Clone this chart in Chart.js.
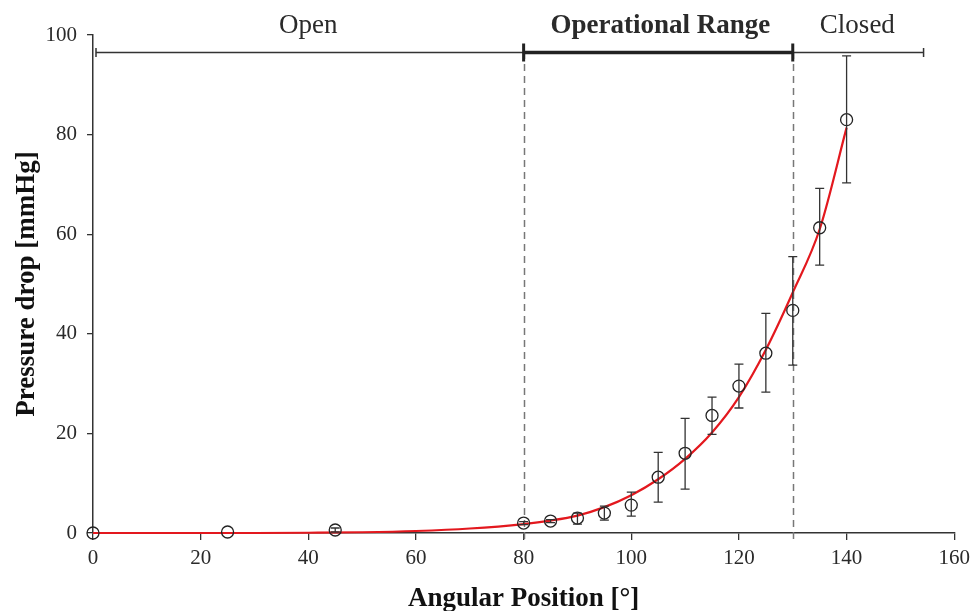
<!DOCTYPE html>
<html>
<head>
<meta charset="utf-8">
<script src="https://cdn.jsdelivr.net/npm/chart.js@4/dist/chart.umd.min.js"></script>
<style>
  html, body { margin: 0; padding: 0; background: #fff; }
  #wrap { width: 976px; height: 611px; }
</style>
</head>
<body>
<div id="wrap"><canvas id="chart" width="976" height="611"></canvas></div>
<script>
// measured points (circles) with error bars
var angle    = [0, 25, 45, 80, 85, 90, 95, 100, 105, 110, 115, 120, 125, 130, 135, 140];
var pressure = [0, 0.2, 0.6, 2.0, 2.4, 3.0, 4.0, 5.6, 11.2, 16.0, 23.6, 29.5, 36.1, 44.7, 61.3, 83.0];
var errLow   = [0, 0.2, 0.2, 1.7, 2.1, 1.8, 2.6, 3.4, 6.2, 8.8, 19.8, 25.1, 28.3, 33.7, 53.8, 70.3];
var errHigh  = [0, 0.2, 1.0, 2.3, 2.7, 4.0, 5.4, 8.2, 16.2, 23.0, 27.3, 33.9, 44.1, 55.5, 69.2, 95.8];

// red fitted curve
var fitAngle    = [0, 10, 20, 30, 40, 50, 60, 70, 80, 85, 90, 95, 100, 105, 110, 115, 120, 125, 130, 135, 140];
var fitPressure = [0, 0, 0, 0, 0.05, 0.15, 0.4, 0.9, 1.8, 2.5, 3.5, 5.2, 7.6, 10.8, 14.9, 20.2, 27.3, 36.8, 48.3, 61.0, 81.4];

// range bar on top
var rangeNames = ["Open", "Operational Range", "Closed"];
var rangeLabelX = [40, 105.4, 142];
var rangeBounds = [0, 80, 130, 154.3];
var rangeLevel = 96.6;

var xTicks = [0, 20, 40, 60, 80, 100, 120, 140, 160];
var yTicks = [0, 20, 40, 60, 80, 100];

var serif = "'Liberation Serif', 'Times New Roman', serif";
var ink = "#2a2a2a";

var points = angle.map(function (a, i) { return { x: a, y: pressure[i] }; });
var fit = fitAngle.map(function (a, i) { return { x: a, y: fitPressure[i] }; });

var extras = {
	id: "extras",
	beforeDatasetsDraw: function (chart) {
		var c = chart.ctx, xs = chart.scales.x, ys = chart.scales.y;
		var yTop = ys.getPixelForValue(rangeLevel);
		var yBot = ys.getPixelForValue(0) + 7;
		c.save();
		c.strokeStyle = "#777";
		c.lineWidth = 1.5;
		c.setLineDash([7, 5]);
		[rangeBounds[1], rangeBounds[2]].forEach(function (v) {
			var px = Math.round(xs.getPixelForValue(v)) + 0.5;
			c.beginPath();
			c.moveTo(px, yTop);
			c.lineTo(px, yBot);
			c.stroke();
		});
		c.restore();
	},
	afterDatasetsDraw: function (chart) {
		var c = chart.ctx, xs = chart.scales.x, ys = chart.scales.y;
		c.save();
		// error bars
		c.strokeStyle = "#333";
		c.lineWidth = 1.3;
		for (var i = 0; i < angle.length; i++) {
			if (errHigh[i] - errLow[i] < 0.3) continue;
			var px = xs.getPixelForValue(angle[i]);
			var lo = ys.getPixelForValue(errLow[i]);
			var hi = ys.getPixelForValue(errHigh[i]);
			c.beginPath();
			c.moveTo(px, lo); c.lineTo(px, hi);
			c.moveTo(px - 4.5, lo); c.lineTo(px + 4.5, lo);
			c.moveTo(px - 4.5, hi); c.lineTo(px + 4.5, hi);
			c.stroke();
		}
		// range bar
		var y = Math.round(ys.getPixelForValue(rangeLevel)) + 0.5;
		var x0 = xs.getPixelForValue(rangeBounds[0]);
		var x1 = xs.getPixelForValue(rangeBounds[1]);
		var x2 = xs.getPixelForValue(rangeBounds[2]);
		var x3 = xs.getPixelForValue(rangeBounds[3]);
		c.strokeStyle = "#333";
		c.lineWidth = 1.5;
		c.beginPath();
		c.moveTo(x0 + 3, y); c.lineTo(x3, y);
		c.moveTo(x0 + 3, y - 4.5); c.lineTo(x0 + 3, y + 4.5);
		c.moveTo(x3, y - 4.5); c.lineTo(x3, y + 4.5);
		c.stroke();
		c.strokeStyle = "#222";
		c.lineWidth = 3.5;
		c.beginPath();
		c.moveTo(x1, y); c.lineTo(x2, y);
		c.stroke();
		c.lineWidth = 3;
		c.beginPath();
		c.moveTo(x1, y - 9); c.lineTo(x1, y + 9);
		c.moveTo(x2, y - 9); c.lineTo(x2, y + 9);
		c.stroke();
		// range labels
		c.fillStyle = ink;
		c.textAlign = "center";
		c.textBaseline = "alphabetic";
		for (var j = 0; j < rangeNames.length; j++) {
			c.font = (j == 1 ? "bold " : "") + "27px " + serif;
			c.fillText(rangeNames[j], xs.getPixelForValue(rangeLabelX[j]), y - 20);
		}
		c.restore();
	}
};

var ctx = document.getElementById("chart");

var chart = new Chart(ctx, {
	type: "scatter",
	data: {
		datasets: [
			{
				label: "Measured",
				data: points,
				showLine: false,
				pointStyle: "circle",
				pointRadius: 6,
				pointBorderWidth: 1.3,
				pointBorderColor: "#222",
				pointBackgroundColor: "rgba(0,0,0,0)",
				clip: false,
				order: 1
			},
			{
				label: "Fit",
				data: fit,
				showLine: true,
				borderColor: "#e3181e",
				borderWidth: 2.2,
				pointRadius: 0,
				cubicInterpolationMode: "monotone",
				clip: false,
				order: 2
			}
		]
	},
	options: {
		responsive: false,
		animation: false,
		layout: { padding: { top: 35, right: 19, left: 0, bottom: 0 } },
		plugins: {
			legend: { display: false },
			tooltip: { enabled: false }
		},
		scales: {
			x: {
				type: "linear",
				min: 0,
				max: 160,
				afterFit: function (s) { s.height = 78; },
				afterBuildTicks: function (s) { s.ticks = xTicks.map(function (v) { return { value: v }; }); },
				grid: { drawOnChartArea: false, drawTicks: true, tickLength: 7, color: "#333", lineWidth: 1.3 },
				border: { display: true, color: "#333", width: 1.5 },
				ticks: { color: ink, font: { family: serif, size: 21 }, padding: 6 },
				title: {
					display: true,
					text: "Angular Position [°]",
					color: "#111",
					font: { family: serif, size: 27, weight: "bold" },
					padding: { top: 0, bottom: -4 }
				}
			},
			y: {
				type: "linear",
				min: 0,
				max: 100,
				afterFit: function (s) { s.width = 93; },
				afterBuildTicks: function (s) { s.ticks = yTicks.map(function (v) { return { value: v }; }); },
				grid: { drawOnChartArea: false, drawTicks: true, tickLength: 6, color: "#333", lineWidth: 1.3 },
				border: { display: true, color: "#333", width: 1.5 },
				ticks: { color: ink, font: { family: serif, size: 21 }, padding: 10 },
				title: {
					display: true,
					text: "Pressure drop [mmHg]",
					color: "#111",
					font: { family: serif, size: 27, weight: "bold" },
					padding: { top: 11, bottom: 0 }
				}
			}
		}
	},
	plugins: [extras]
});
</script>
</body>
</html>
